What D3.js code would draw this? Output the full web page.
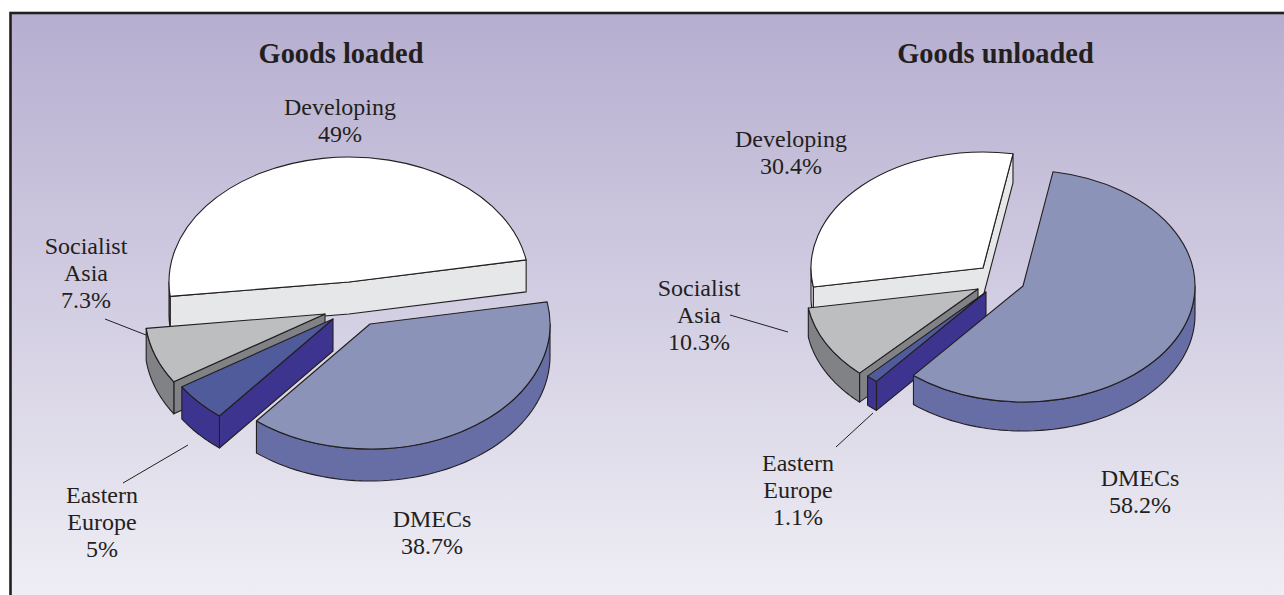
<!DOCTYPE html>
<html>
<head>
<meta charset="utf-8">
<script src="https://cdn.jsdelivr.net/npm/d3@7/dist/d3.min.js"></script>
<style>html,body{margin:0;padding:0;background:#fff;overflow:hidden}svg{display:block}</style>
</head>
<body>
<script>
// ---- data ----
const categories = ["Developing", "DMECs", "Eastern Europe", "Socialist Asia"];
const goodsLoaded = [49, 38.7, 5, 7.3];
const goodsUnloaded = [30.4, 58.2, 1.1, 10.3];
const titles = ["Goods loaded", "Goods unloaded"];

// ---- styles ----
const topColors = ["#ffffff", "#8b93b9", "#4f5b9b", "#bcbec0"];
const sideColors = ["#e6e7e8", "#666ea5", "#3d3490", "#808285"];
const ink = "#231f20";
const drawOrder = [0, 3, 2, 1];

const W = 1284, H = 595;
const svg = d3.select("body").append("svg").attr("width", W).attr("height", H);
const grad = svg.append("defs").append("linearGradient").attr("id", "bg")
  .attr("x1", 0).attr("y1", 0).attr("x2", 0).attr("y2", 1);
grad.append("stop").attr("offset", 0).attr("stop-color", "#b6aed0");
grad.append("stop").attr("offset", 1).attr("stop-color", "#f0eff5");

svg.append("rect").attr("x", 10.5).attr("y", 13).attr("width", W).attr("height", H)
  .attr("fill", "url(#bg)").attr("stroke", ink).attr("stroke-width", 2.6);

const rad = Math.PI / 180;

function drawPie(values, opt) {
  const pie = d3.pie().sort(null).value(d => d)
    .startAngle(opt.startDeg * rad).endAngle((opt.startDeg + 360) * rad);
  const arcs = pie(values);
  const arc = d3.arc().innerRadius(0).outerRadius(opt.rx);
  const k = opt.ry / opt.rx;
  const g = svg.append("g");
  const line = d3.line();
  const style = sel => sel.attr("stroke", ink).attr("stroke-width", 1.1).attr("stroke-linejoin", "round");

  drawOrder.forEach(i => {
    const a = arcs[i], [cx, cy] = opt.centers[i];
    const px = t => [cx + opt.rx * Math.cos(t), cy + opt.ry * Math.sin(t)];
    const t0 = a.startAngle - Math.PI / 2, t1 = a.endAngle - Math.PI / 2;

    // radial walls that face the viewer, joined at the apex when both show
    const edges = [];
    if (Math.cos(t0) < 0) edges.push(px(t0));
    edges.push([cx, cy]);
    if (Math.cos(t1) > 0) edges.push(px(t1));
    if (edges.length > 1) {
      const lower = edges.slice().reverse().map(p => [p[0], p[1] + opt.depth]);
      g.append("path").attr("d", line(edges.concat(lower)) + "Z")
        .attr("fill", sideColors[i]).call(style);
    }

    // outer rim where it faces the viewer
    [-2 * Math.PI, 0].forEach(off => {
      const from = Math.max(t0, off), to = Math.min(t1, off + Math.PI);
      if (to <= from) return;
      const ts = d3.range(0, 61).map(j => from + (to - from) * j / 60);
      const up = ts.map(px);
      const down = ts.slice().reverse().map(t => { const p = px(t); return [p[0], p[1] + opt.depth]; });
      g.append("path").attr("d", line(up.concat(down)) + "Z").attr("fill", sideColors[i]).call(style);
    });

    // top face
    g.append("path").attr("d", arc(a))
      .attr("transform", `translate(${cx},${cy}) scale(1,${k})`)
      .attr("vector-effect", "non-scaling-stroke")
      .attr("fill", topColors[i]).call(style);
  });

  // leader lines
  opt.leaders.forEach(l => svg.append("line")
    .attr("x1", l[0]).attr("y1", l[1]).attr("x2", l[2]).attr("y2", l[3])
    .attr("stroke", ink).attr("stroke-width", 1));

  // labels
  const lineH = 27;
  categories.forEach((c, i) => {
    const [x, y] = opt.labels[i];
    const lines = c === "DMECs" || c === "Developing" ? [c] : c.split(" ");
    lines.concat([values[i] + "%"]).forEach((s, j) => {
      svg.append("text").attr("x", x).attr("y", y + j * lineH)
        .attr("text-anchor", "middle").attr("fill", ink)
        .attr("font-family", "'Liberation Serif', serif").attr("font-size", 24).text(s);
    });
  });

  svg.append("text").attr("x", opt.titleX).attr("y", 63)
    .attr("text-anchor", "middle").attr("fill", ink).attr("font-weight", "bold")
    .attr("font-family", "'Liberation Serif', serif").attr("font-size", 28.4).text(opt.title);
}

drawPie(goodsLoaded, {
  title: titles[0], titleX: 341,
  startDeg: -96.6, rx: 180, ry: 125, depth: 32,
  centers: [[349, 282], [370, 324], [333, 319], [325, 314]],
  labels: [[340, 115], [432, 527], [102, 503], [86, 254]],
  leaders: [[105, 319, 146, 335], [123, 483, 188, 445]]
});

drawPie(goodsUnloaded, {
  title: titles[1], titleX: 995.5,
  startDeg: -99.4, rx: 172, ry: 116, depth: 29,
  centers: [[983, 268], [1023, 286], [986, 292], [978, 289]],
  labels: [[791, 147], [1140, 486], [798, 471], [699, 296]],
  leaders: [[730, 315, 788, 332], [836, 447, 873, 413]]
});
</script>
</body>
</html>
